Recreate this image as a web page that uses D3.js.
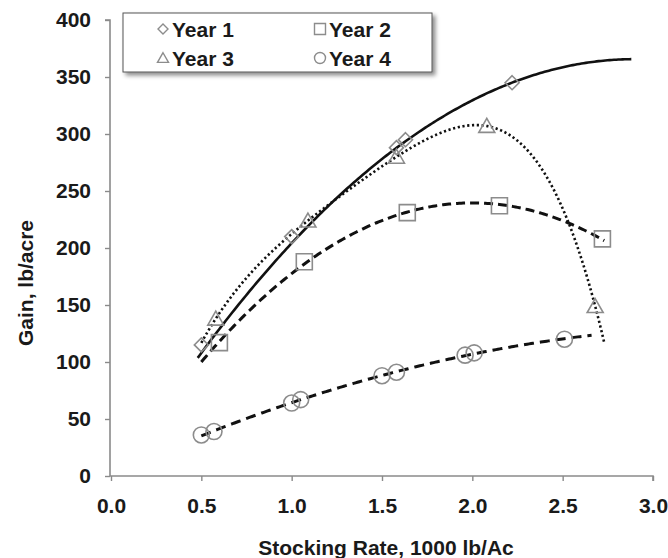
<!DOCTYPE html>
<html>
<head>
<meta charset="utf-8">
<script src="https://cdn.jsdelivr.net/npm/d3@7"></script>
<style>
  body { margin: 0; background: #fff; }
  svg { display: block; }
  text { font-family: "Liberation Sans", Arial, sans-serif; font-weight: bold; fill: #1a1a1a; }
</style>
</head>
<body>
<svg id="chart" width="668" height="558"></svg>
<script>
// Observed gain by stocking rate, one series per year
const seriesNames = ["Year 1", "Year 2", "Year 3", "Year 4"];
const year1Rate = [0.50, 1.00, 1.58, 1.63, 2.22];
const year1Gain = [115, 210, 288, 295, 345];
const year2Rate = [0.60, 1.07, 1.64, 2.15, 2.72];
const year2Gain = [117, 188, 231, 237, 208];
const year3Rate = [0.58, 1.09, 1.58, 2.08, 2.68];
const year3Gain = [138, 224, 280, 307, 149];
const year4Rate = [0.50, 0.57, 1.00, 1.05, 1.50, 1.58, 1.96, 2.01, 2.51];
const year4Gain = [36, 39, 64, 67, 88, 91, 106, 108, 120];

// Polynomial trendline order and drawn range for each year
const trendOrder = [2, 2, 4, 2];
const trendFrom = [0.48, 0.50, 0.50, 0.50];
const trendTo = [2.88, 2.73, 2.73, 2.66];
// Year 1 trendline comes from the full plot record (replicates overlap under
// the markers), so its coefficients c0, c1, c2 are given directly
const year1TrendCoef = [-10.7, 259.7, -44.8];

const xTickValues = [0, 0.5, 1.0, 1.5, 2.0, 2.5, 3.0];
const yTickValues = [0, 50, 100, 150, 200, 250, 300, 350, 400];

const rates = [year1Rate, year2Rate, year3Rate, year4Rate];
const gains = [year1Gain, year2Gain, year3Gain, year4Gain];

// Least-squares polynomial fit: returns coefficients c0..cn
function polyFit(xs, ys, order) {
  const n = order + 1;
  const A = Array.from({length: n}, () => new Array(n + 1).fill(0));
  xs.forEach((x, k) => {
    for (let i = 0; i < n; i++) {
      for (let j = 0; j < n; j++) A[i][j] += Math.pow(x, i + j);
      A[i][n] += ys[k] * Math.pow(x, i);
    }
  });
  for (let c = 0; c < n; c++) {
    let p = c;
    for (let r = c + 1; r < n; r++) if (Math.abs(A[r][c]) > Math.abs(A[p][c])) p = r;
    [A[c], A[p]] = [A[p], A[c]];
    for (let r = 0; r < n; r++) {
      if (r === c) continue;
      const f = A[r][c] / A[c][c];
      for (let j = c; j <= n; j++) A[r][j] -= f * A[c][j];
    }
  }
  return A.map((row, i) => row[n] / row[i]);
}
const polyEval = (coef, x) => coef.reduce((s, c, i) => s + c * Math.pow(x, i), 0);

const svg = d3.select("#chart");
const x = d3.scaleLinear().domain([0, 3]).range([111, 653]);
const y = d3.scaleLinear().domain([0, 400]).range([476, 20]);

// Marker shapes
const diamond = { draw(ctx, size) { const r = Math.sqrt(size) / 2;
  ctx.moveTo(0, -r); ctx.lineTo(r, 0); ctx.lineTo(0, r); ctx.lineTo(-r, 0); ctx.closePath(); } };
const square = { draw(ctx, size) { const h = Math.sqrt(size) / 2;
  ctx.rect(-h, -h, 2 * h, 2 * h); } };
const triangle = { draw(ctx, size) { const w = Math.sqrt(size) / 2;
  ctx.moveTo(0, -w * 0.95); ctx.lineTo(w, w * 0.8); ctx.lineTo(-w, w * 0.8); ctx.closePath(); } };
const circle = { draw(ctx, size) { const r = Math.sqrt(size) / 2;
  ctx.moveTo(r, 0); ctx.arc(0, 0, r, 0, 2 * Math.PI); } };
const shapes = [diamond, square, triangle, circle];
const markerSize = [14 * 14, 16 * 16, 16 * 16, 16 * 16];
const legendSize = [10 * 10, 11 * 11, 11 * 11, 11 * 11];
const dashes = [null, "9,5", "2.2,2.6", "10,6"];
const lineWidths = [2.6, 3, 2.6, 3];

// Axes
const axisColor = "#8a8a8a";
const yAxis = svg.append("g").attr("transform", `translate(${x(0) - 1},0)`)
  .call(d3.axisLeft(y).tickValues(yTickValues).tickSize(5).tickPadding(14).tickSizeOuter(0).tickFormat(d3.format("d")));
const xAxis = svg.append("g").attr("transform", `translate(0,${y(0)})`)
  .call(d3.axisBottom(x).tickValues(xTickValues).tickSize(5).tickPadding(17).tickSizeOuter(0).tickFormat(d3.format(".1f")));
[xAxis, yAxis].forEach(g => {
  g.select(".domain").attr("stroke", axisColor).attr("stroke-width", 1.6);
  g.selectAll(".tick line").attr("stroke", axisColor).attr("stroke-width", 1.4);
  g.selectAll("text").attr("font-size", 21).attr("font-family", null).attr("fill", "#1a1a1a");
});
// Small cap ticks at the top of the y axis and end of the x axis
yAxis.select(".domain").attr("d", `M-5,${y(400)}H0V${y(0)}`);
xAxis.select(".domain").attr("d", `M${x(0) - 1},0H${x(3)}V5`);

// Axis titles
svg.append("text").attr("x", 386).attr("y", 555).attr("text-anchor", "middle")
  .attr("font-size", 21).text("Stocking Rate, 1000 lb/Ac");
svg.append("text").attr("transform", "translate(33,283) rotate(-90)").attr("text-anchor", "middle")
  .attr("font-size", 21).text("Gain, lb/acre");

// Trendlines
const line = d3.line().x(d => x(d[0])).y(d => y(d[1]));
seriesNames.forEach((name, i) => {
  const coef = i === 0 ? year1TrendCoef : polyFit(rates[i], gains[i], trendOrder[i]);
  const pts = d3.range(0, 201).map(k => {
    const xv = trendFrom[i] + (trendTo[i] - trendFrom[i]) * k / 200;
    return [xv, polyEval(coef, xv)];
  });
  svg.append("path").datum(pts).attr("d", line).attr("fill", "none")
    .attr("stroke", "#111").attr("stroke-width", lineWidths[i])
    .attr("stroke-dasharray", dashes[i]);
});

// Markers
seriesNames.forEach((name, i) => {
  svg.append("g").selectAll("path").data(rates[i].map((r, k) => [r, gains[i][k]])).join("path")
    .attr("d", d3.symbol().type(shapes[i]).size(markerSize[i]))
    .attr("transform", d => `translate(${x(d[0])},${y(d[1])})`)
    .attr("fill", "none").attr("stroke", "#8c8c8c").attr("stroke-width", 1.6);
});

// Legend
const defs = svg.append("defs");
const f = defs.append("filter").attr("id", "shadow").attr("x", "-10%").attr("y", "-20%").attr("width", "130%").attr("height", "160%");
f.append("feDropShadow").attr("dx", 3).attr("dy", 3).attr("stdDeviation", 2).attr("flood-color", "#000").attr("flood-opacity", 0.45);
const legend = svg.append("g");
legend.append("rect").attr("x", 123).attr("y", 13).attr("width", 309).attr("height", 59)
  .attr("fill", "#fff").attr("stroke", "#555").attr("stroke-width", 1).attr("filter", "url(#shadow)");
const legendPos = [[163, 29], [320, 29], [163, 58], [320, 58]];
seriesNames.forEach((name, i) => {
  const [lx, ly] = legendPos[i];
  legend.append("path").attr("d", d3.symbol().type(shapes[i]).size(legendSize[i]))
    .attr("transform", `translate(${lx},${ly})`)
    .attr("fill", "none").attr("stroke", "#8c8c8c").attr("stroke-width", 1.4);
  legend.append("text").attr("x", lx + 9).attr("y", ly + 8).attr("font-size", 21).text(name);
});
</script>
</body>
</html>
